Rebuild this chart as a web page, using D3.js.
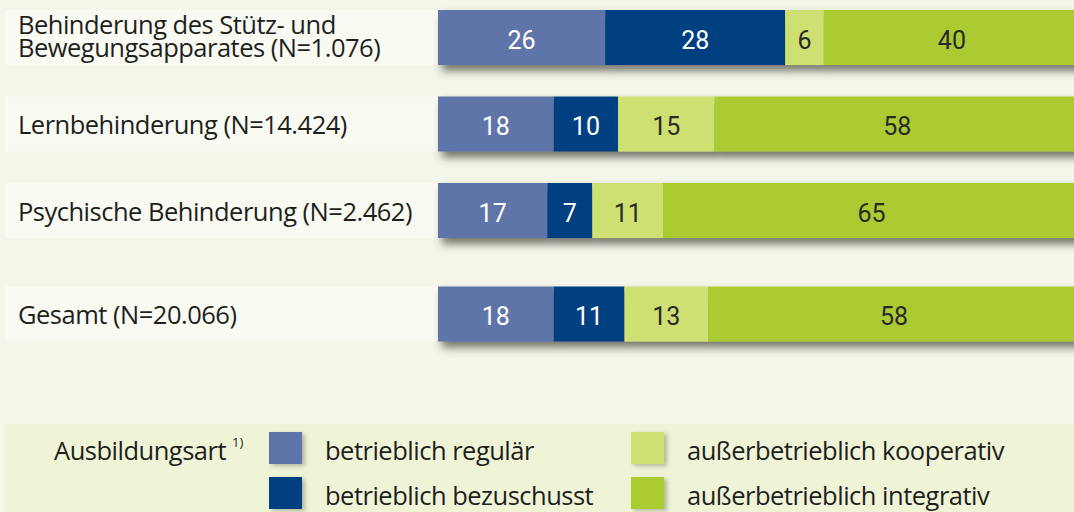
<!DOCTYPE html>
<html>
<head>
<meta charset="utf-8">
<script src="https://cdn.jsdelivr.net/npm/d3@7"></script>
<style>
  html, body { margin: 0; padding: 0; background: #f4f6ea; }
  svg { display: block; }
</style>
</head>
<body>
<div id="wrapper"></div>
<script>
// categories (label lines) and series values in percent
const categories = ['stuetz', 'lern', 'psych', 'gesamt']
const labelLines = [
    ['Behinderung des Stütz- und', 'Bewegungsapparates (N=1.076)'],
    ['Lernbehinderung (N=14.424)'],
    ['Psychische Behinderung (N=2.462)'],
    ['Gesamt (N=20.066)']
]
const seriesNames = ['betrieblich regulär', 'betrieblich bezuschusst', 'außerbetrieblich kooperativ', 'außerbetrieblich integrativ']
const regulaer = [26, 18, 17, 18]
const bezuschusst = [28, 10, 7, 11]
const kooperativ = [6, 15, 11, 13]
const integrativ = [40, 58, 65, 58]
const legendTitle = 'Ausbildungsart'
const legendNote = '1)'

function drawBars () {
    const dms = {
        width: 1074,
        height: 512,
        labelLeft: 5,
        barLeft: 438,
        barRight: 1081,
        top: 10
    }
    const colors = ['#5e75a9', '#003f80', '#cfe072', '#acca31']
    const textColors = ['#ffffff', '#ffffff', '#2a2a28', '#2a2a28']
    const labelFont = "'Open Sans', 'Noto Sans', sans-serif"
    const labelSize = '25.5px'
    const labelSpacing = '-0.5px'
    const numFont = "Roboto, 'Noto Sans', sans-serif"

    const rows = categories.map((c, i) => ({
        key: c,
        lines: labelLines[i],
        v0: regulaer[i], v1: bezuschusst[i], v2: kooperativ[i], v3: integrativ[i]
    }))
    const stack = d3.stack().keys(['v0', 'v1', 'v2', 'v3'])
    const stacked = stack(rows)

    const wrapper = d3.select('#wrapper')
        .append('svg')
        .attr('width', dms.width)
        .attr('height', dms.height)

    const defs = wrapper.append('defs')
    const shadow = defs.append('filter')
        .attr('id', 'shadow')
        .attr('x', '-5%').attr('y', '-20%')
        .attr('width', '115%').attr('height', '170%')
    shadow.append('feDropShadow')
        .attr('dx', 4).attr('dy', 6)
        .attr('stdDeviation', 4)
        .attr('flood-color', '#3e4134')
        .attr('flood-opacity', 0.7)
    const smallShadow = defs.append('filter')
        .attr('id', 'smallShadow')
        .attr('x', '-20%').attr('y', '-20%')
        .attr('width', '160%').attr('height', '160%')
    smallShadow.append('feDropShadow')
        .attr('dx', 3).attr('dy', 2)
        .attr('stdDeviation', 2)
        .attr('flood-color', '#6b6e5c')
        .attr('flood-opacity', 0.45)

    // scales
    const xScale = d3.scaleLinear()
        .domain([0, 100])
        .range([dms.barLeft, dms.barRight])
    const step = 86.5
    const padInner = 0.364
    const yBand = d3.scaleBand()
        .domain(categories)
        .range([dms.top, dms.top + step * (categories.length - padInner)])
        .paddingInner(padInner)
        .paddingOuter(0)
    const totalGap = 17
    const yPos = key => yBand(key) + (key === 'gesamt' ? totalGap : 0)
    const bh = yBand.bandwidth()

    // label panels
    const labels = wrapper.append('g')
    labels.selectAll('rect')
        .data(rows)
        .join('rect')
        .attr('x', dms.labelLeft)
        .attr('y', d => yPos(d.key))
        .attr('width', dms.barLeft - dms.labelLeft)
        .attr('height', bh)
        .attr('fill', '#f9fbf3')

    const labelText = labels.selectAll('text')
        .data(rows)
        .join('text')
        .attr('x', 18)
        .attr('y', d => yPos(d.key) + bh / 2 + 10 - (d.lines.length - 1) * 13.5)
        .style('font-family', labelFont)
        .style('font-size', labelSize)
        .style('letter-spacing', labelSpacing)
        .attr('fill', '#1f1f1d')
    labelText.selectAll('tspan')
        .data(d => d.lines)
        .join('tspan')
        .attr('x', 18)
        .attr('dy', (d, i) => i === 0 ? 0 : 23)
        .text(d => d)

    // bars
    const barRows = wrapper.append('g')
    const rowGroups = barRows.selectAll('g')
        .data(rows)
        .join('g')
        .attr('filter', 'url(#shadow)')
    rowGroups.selectAll('rect')
        .data((d, i) => stacked.map((s, k) => ({ key: d.key, k: k, y0: s[i][0], y1: s[i][1], v: s[i].data[s.key] })))
        .join('rect')
        .attr('x', d => xScale(d.y0))
        .attr('y', d => yPos(d.key))
        .attr('width', d => xScale(d.y1) - xScale(d.y0))
        .attr('height', bh)
        .attr('fill', d => colors[d.k])

    const numbers = wrapper.append('g')
    numbers.selectAll('text')
        .data(stacked.flatMap((s, k) => s.map((p, i) => ({ key: rows[i].key, k: k, y0: p[0], y1: p[1], v: p.data[s.key] }))))
        .join('text')
        .attr('x', d => (xScale(d.y0) + Math.min(xScale(d.y1), dms.width + 6)) / 2)
        .attr('y', d => yPos(d.key) + bh / 2 + 11)
        .text(d => d.v)
        .style('text-anchor', 'middle')
        .style('font-family', numFont)
        .style('font-size', '25px')
        .attr('fill', d => textColors[d.k])

    // legend
    const legend = wrapper.append('g')
    legend.append('rect')
        .attr('x', 5)
        .attr('y', 424)
        .attr('width', dms.width - 5)
        .attr('height', dms.height - 424)
        .attr('fill', '#eff4d7')
    legend.append('text')
        .attr('x', 226)
        .attr('y', 460)
        .style('text-anchor', 'end')
        .style('font-family', labelFont)
        .style('font-size', labelSize)
        .style('letter-spacing', labelSpacing)
        .attr('fill', '#1f1f1d')
        .text(legendTitle)
    legend.append('text')
        .attr('x', 232)
        .attr('y', 447)
        .style('font-family', labelFont)
        .style('font-size', '13px')
        .attr('fill', '#1f1f1d')
        .text(legendNote)

    const legendCol = d3.scaleOrdinal().domain([0, 1]).range([269, 631])
    const legendRow = d3.scaleOrdinal().domain([0, 1]).range([432, 477])
    const items = legend.selectAll('g.item')
        .data(seriesNames.map((name, k) => ({ name: name, k: k, col: Math.floor(k / 2), row: k % 2 })))
        .join('g')
        .attr('class', 'item')
    items.append('rect')
        .attr('x', d => legendCol(d.col))
        .attr('y', d => legendRow(d.row))
        .attr('width', 33)
        .attr('height', 32)
        .attr('fill', d => colors[d.k])
        .attr('filter', 'url(#smallShadow)')
    items.append('text')
        .attr('x', d => legendCol(d.col) + 56)
        .attr('y', d => legendRow(d.row) + 28)
        .style('font-family', labelFont)
        .style('font-size', labelSize)
        .style('letter-spacing', labelSpacing)
        .attr('fill', '#1f1f1d')
        .text(d => d.name)
}
drawBars()
</script>
</body>
</html>
